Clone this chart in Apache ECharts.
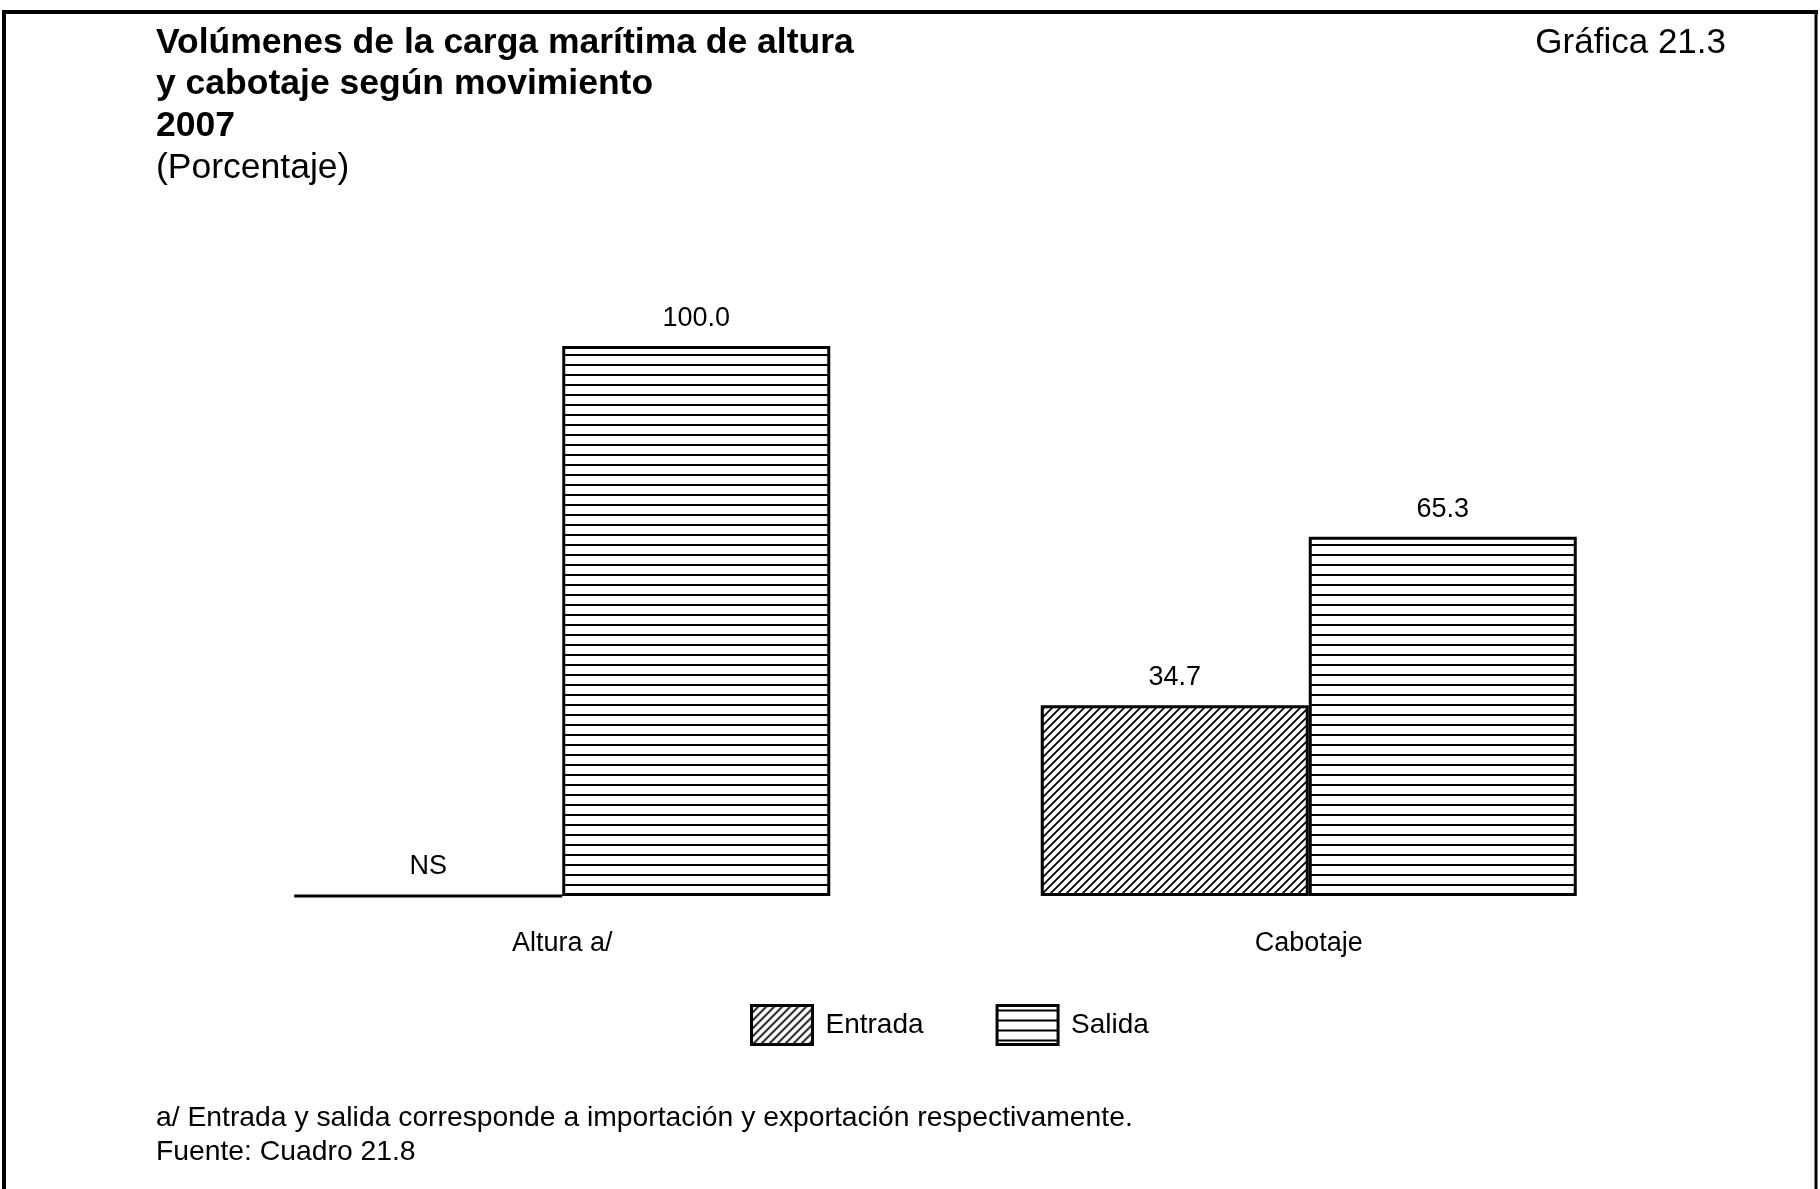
<!DOCTYPE html>
<html>
<head>
<meta charset="utf-8">
<title>Gráfica 21.3</title>
<script src="https://cdn.jsdelivr.net/npm/echarts@6/dist/echarts.min.js"></script>
<style>
  html, body { margin: 0; padding: 0; background: #fff; }
  #chart { width: 1820px; height: 1189px; }
</style>
</head>
<body>
<div id="chart"></div>
<script>
// categorías del eje x
var categorias = ['Altura a/', 'Cabotaje'];
// porcentajes por movimiento (0 = NS, no significativo)
var entrada = [0, 34.7];
var salida = [100.0, 65.3];
var nombresSerie = ['Entrada', 'Salida'];

var fuente = '"Liberation Sans", Arial, Helvetica, sans-serif';

// trama diagonal para Entrada
function tramaDiagonal() {
	var c = document.createElement('canvas');
	c.width = 8; c.height = 8;
	var ctx = c.getContext('2d');
	ctx.fillStyle = '#fff';
	ctx.fillRect(0, 0, 8, 8);
	ctx.strokeStyle = '#000';
	ctx.lineWidth = 1.8;
	ctx.beginPath();
	ctx.moveTo(0, 8); ctx.lineTo(8, 0);
	ctx.moveTo(-1, 1); ctx.lineTo(1, -1);
	ctx.moveTo(7, 9); ctx.lineTo(9, 7);
	ctx.stroke();
	return c;
}
// trama horizontal para Salida
function tramaHorizontal() {
	var c = document.createElement('canvas');
	c.width = 10; c.height = 10;
	var ctx = c.getContext('2d');
	ctx.fillStyle = '#fff';
	ctx.fillRect(0, 0, 10, 10);
	ctx.fillStyle = '#000';
	ctx.fillRect(0, 4, 10, 2);
	return c;
}

var etiqueta = {
	show: true,
	position: 'top',
	distance: 14,
	color: '#000',
	fontFamily: fuente,
	fontSize: 27,
	formatter: function(p) {
		return p.value === 0 ? 'NS' : p.value.toFixed(1);
	}
};

var myChart = echarts.init(document.getElementById('chart'));
var option = {
	backgroundColor: '#fff',
	animation: false,
	title: [{
		text: 'Volúmenes de la carga marítima de altura\ny cabotaje según movimiento\n2007',
		left: 151, top: 17,
		textStyle: { fontFamily: fuente, fontSize: 35.5, fontWeight: 'bold', color: '#000', lineHeight: 41.5 }
	}, {
		text: '(Porcentaje)',
		left: 151, top: 142,
		textStyle: { fontFamily: fuente, fontSize: 35.5, fontWeight: 'normal', color: '#000', lineHeight: 41.5 }
	}, {
		text: 'Gráfica 21.3',
		right: 89, top: 18,
		textStyle: { fontFamily: fuente, fontSize: 35, fontWeight: 'normal', color: '#000', lineHeight: 41.5 }
	}, {
		text: 'a/ Entrada y salida corresponde a importación y exportación respectivamente.\nFuente: Cuadro 21.8',
		left: 151, top: 1096,
		textStyle: { fontFamily: fuente, fontSize: 28.3, fontWeight: 'normal', color: '#000', lineHeight: 34 }
	}],
	legend: {
		data: nombresSerie,
		left: 745, top: 999,
		itemWidth: 61, itemHeight: 39,
		itemGap: 72,
		icon: 'rect',
		itemStyle: { borderColor: '#000', borderWidth: 3 },
		textStyle: { fontFamily: fuente, fontSize: 28, color: '#000', padding: [0, 0, 0, 8] }
	},
	grid: { left: 189, right: 138, top: 346, bottom: 293, containLabel: false },
	xAxis: {
		type: 'category',
		data: categorias,
		axisLine: { show: false },
		axisTick: { show: false },
		axisLabel: { color: '#000', fontFamily: fuente, fontSize: 27, margin: 34 }
	},
	yAxis: {
		type: 'value', min: 0, max: 100,
		show: false
	},
	series: [{
		name: nombresSerie[0],
		type: 'bar',
		data: entrada,
		barWidth: 268,
		barGap: '0%',
		itemStyle: { color: { image: tramaDiagonal(), repeat: 'repeat' }, borderColor: '#000', borderWidth: 3 },
		label: etiqueta
	}, {
		name: nombresSerie[1],
		type: 'bar',
		data: salida,
		barWidth: 268,
		barGap: '0%',
		itemStyle: { color: { image: tramaHorizontal(), repeat: 'repeat' }, borderColor: '#000', borderWidth: 3 },
		label: etiqueta
	}],
	// marco de la página
	graphic: [
		{ type: 'line', shape: { x1: 2, y1: 12, x2: 1818, y2: 12 }, style: { stroke: '#000', lineWidth: 4 } },
		{ type: 'line', shape: { x1: 4, y1: 10, x2: 4, y2: 1189 }, style: { stroke: '#000', lineWidth: 4 } },
		{ type: 'line', shape: { x1: 1816, y1: 10, x2: 1816, y2: 1189 }, style: { stroke: '#000', lineWidth: 3 } }
	]
};
myChart.setOption(option);
window.onresize = myChart.resize;
</script>
</body>
</html>
